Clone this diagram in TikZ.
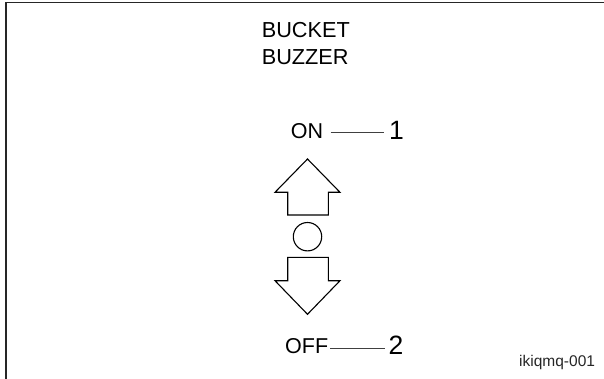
\documentclass[tikz,border=0pt]{standalone}
\usepackage{fontspec}
\setmainfont{Liberation Sans}
\usepackage{tikz}
\usetikzlibrary{calc}

\tikzset{
  postext/.style={inner sep=0pt, font=\fontsize{21.5}{26}\selectfont},
  posdigit/.style={inner sep=0pt, font=\fontsize{26.5}{30}\selectfont},
  lead/.style={black!75, line width=0.8pt},
  symbol/.style={black, line width=1.1pt, line join=miter},
  frame/.style={black!85, line width=1.5pt}
}

\begin{document}
\begin{tikzpicture}[x=1pt, y=-1pt]
\useasboundingbox (0,0) rectangle (604,379);

% Frame (left and top edges only)
\draw[frame] (6,379) -- (6,2.5) -- (604,2.5);

% Title (base anchor sits on the last line)
\node[inner sep=0pt, anchor=base west, align=left,
      font=\fontsize{21.7}{26.6}\selectfont] (title) at (261.6,64.3) {BUCKET\\BUZZER};

% Switch positions
\node[postext, anchor=base west] (on) at (290.7,138.3) {ON};
\node[posdigit, anchor=base west] (one) at (389,139.3) {1};
\node[postext, anchor=base west] (off) at (285,353.3) {OFF};
\node[posdigit, anchor=base west] (two) at (388.5,354.3) {2};

% Leader lines
\draw[lead, shorten <=7.3pt, shorten >=5pt]
  ([yshift=-2pt]on.east) -- ([yshift=-2pt]on.east -| one.west);
\draw[lead, shorten <=1.7pt, shorten >=3.5pt]
  ([yshift=-2pt]off.east) -- ([yshift=-2pt]off.east -| two.west);

% Up arrow
\draw[symbol] (307.5,159) -- (340,192.3) -- (328.3,192.3) -- (328.3,215)
  -- (287.7,215) -- (287.7,192.3) -- (275,192.3) -- cycle;

% Centre circle
\draw[symbol] (307.5,236.7) circle (14.2);

% Down arrow
\draw[symbol] (307.5,314.3) -- (340,280.7) -- (328.3,280.7) -- (328.3,257.3)
  -- (287.7,257.3) -- (287.7,280.7) -- (275,280.7) -- cycle;

% Figure code
\node[inner sep=0pt, anchor=base west, black!85,
      font=\fontsize{15.5}{18}\selectfont] (code) at (519,366.7) {ikiqmq-001};
\end{tikzpicture}
\end{document}
